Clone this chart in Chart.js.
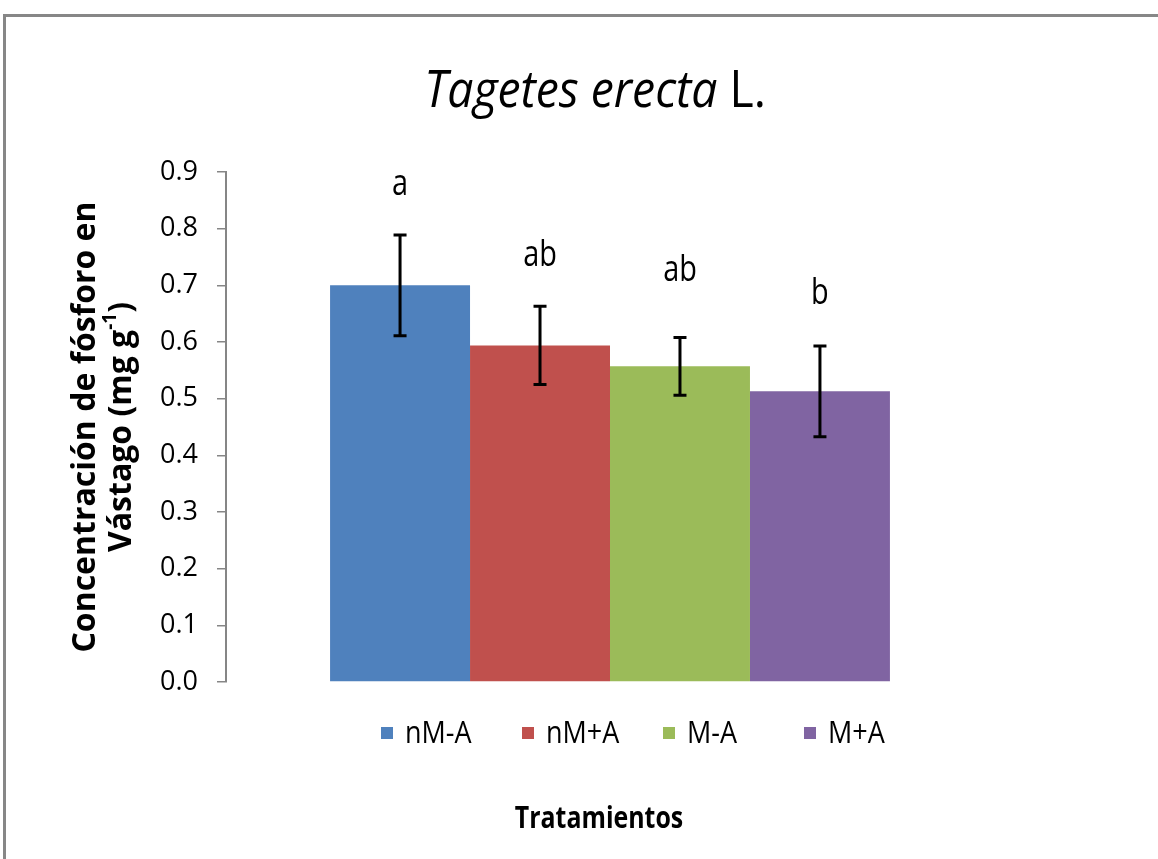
<!DOCTYPE html>
<html>
<head>
<meta charset="utf-8">
<script src="https://cdn.jsdelivr.net/npm/chart.js@4.4.1/dist/chart.umd.min.js"></script>
<style>
  html, body { margin: 0; padding: 0; background: #fff; overflow: hidden; }
  #wrap { position: relative; width: 1158px; height: 859px; }
  #frame { position: absolute; left: 3px; top: 14px; width: 1300px; height: 1000px;
           border-top: 3px solid #878787; border-left: 3px solid #878787; box-sizing: border-box; }
  canvas { position: absolute; left: 0; top: 0; }
</style>
</head>
<body>
<div id="wrap">
  <div id="frame"></div>
  <canvas id="chart" width="1158" height="859"></canvas>
</div>
<script>
// Phosphorus concentration in shoots of Tagetes erecta, by treatment
const treatments = ['nM-A', 'nM+A', 'M-A', 'M+A'];
const concentration = [0.700, 0.594, 0.557, 0.513];
const errorValues = [0.089, 0.069, 0.051, 0.080];
const groupLetters = ['a', 'ab', 'ab', 'b'];
const barColors = ['#4F81BD', '#C0504D', '#9BBB59', '#8064A2'];
const yTickLabels = ['0.0', '0.1', '0.2', '0.3', '0.4', '0.5', '0.6', '0.7', '0.8', '0.9'];

const FONT = '"Open Sans", "DejaVu Sans", sans-serif';

// use a narrow face for the axis numbers when one is installed
function hasFont(name) {
  const c = document.createElement('canvas').getContext('2d');
  c.font = '40px monospace';
  const base = c.measureText('0.123456789abcM').width;
  c.font = '40px "' + name + '", monospace';
  return c.measureText('0.123456789abcM').width !== base;
}
const narrowAvailable = hasFont('Liberation Sans Narrow');
const TICK_FONT = narrowAvailable
  ? { family: '"Liberation Sans Narrow", sans-serif', size: 30 }
  : { family: FONT, size: 27 };

function drawText(ctx, text, x, y, font, align, sx) {
  ctx.save();
  ctx.font = font;
  ctx.translate(x, y);
  ctx.scale(sx || 1, 1);
  ctx.textAlign = align || 'left';
  ctx.fillText(text, 0, 0);
  ctx.restore();
}

const annotations = {
  id: 'annotations',
  afterDatasetsDraw(chart, args, opts) {
    const ctx = chart.ctx;
    const y = chart.scales.y;
    ctx.save();
    ctx.strokeStyle = '#000';
    ctx.lineWidth = 3;
    chart.data.datasets.forEach((ds, i) => {
      const bar = chart.getDatasetMeta(i).data[0];
      const v = ds.data[0];
      const e = errorValues[i];
      const top = y.getPixelForValue(v + e);
      const bot = y.getPixelForValue(v - e);
      const cap = 6.5;
      // error bar with caps
      ctx.beginPath();
      ctx.moveTo(bar.x, top); ctx.lineTo(bar.x, bot);
      ctx.moveTo(bar.x - cap, top); ctx.lineTo(bar.x + cap, top);
      ctx.moveTo(bar.x - cap, bot); ctx.lineTo(bar.x + cap, bot);
      ctx.stroke();
      // significance letter
      ctx.fillStyle = '#000';
      ctx.textBaseline = 'alphabetic';
      drawText(ctx, groupLetters[i], bar.x, top - opts.letterGap[i], '37px ' + FONT, 'center', 0.78);
    });
    ctx.restore();
  },
  afterDraw(chart, args, opts) {
    const ctx = chart.ctx;
    const area = chart.chartArea;
    ctx.save();
    ctx.fillStyle = '#000';
    ctx.textBaseline = 'alphabetic';

    // main title: italic species name followed by upright authority
    const tItalic = 'italic 52px ' + FONT;
    const tNormal = '52px ' + FONT;
    const part1 = 'Tagetes erecta', part2 = ' L.';
    const sx = 0.89;
    ctx.font = tItalic; const w1 = ctx.measureText(part1).width * sx;
    ctx.font = tNormal; const w2 = ctx.measureText(part2).width * sx;
    const tx = opts.titleX - (w1 + w2) / 2;
    drawText(ctx, part1, tx, opts.titleY, tItalic, 'left', sx);
    drawText(ctx, part2, tx + w1, opts.titleY, tNormal, 'left', sx);

    // y-axis title, two rotated lines
    const cy = (area.top + area.bottom) / 2;
    const yFont = 'bold 32px ' + FONT;
    const supFont = 'bold 19px ' + FONT;
    ctx.save();
    ctx.translate(opts.yTitleX, cy);
    ctx.rotate(-Math.PI / 2);
    ctx.textBaseline = 'middle';
    ctx.font = yFont;
    ctx.textAlign = 'center';
    ctx.fillText('Concentración de fósforo en', 0, -18);
    const a = 'Vástago (mg g', sup = '-1', b = ')';
    ctx.font = yFont; const wa = ctx.measureText(a).width, wb = ctx.measureText(b).width;
    ctx.font = supFont; const ws = ctx.measureText(sup).width;
    let lx = -(wa + ws + wb) / 2;
    ctx.textAlign = 'left';
    ctx.font = yFont; ctx.fillText(a, lx, 18); lx += wa;
    ctx.font = supFont; ctx.fillText(sup, lx, 7); lx += ws;
    ctx.font = yFont; ctx.fillText(b, lx, 18);
    ctx.restore();

    // x-axis title
    drawText(ctx, 'Tratamientos', opts.xTitleX, opts.xTitleY, 'bold 30px ' + FONT, 'center', 0.83);

    // legend
    const items = chart.data.datasets;
    items.forEach((ds, i) => {
      const x = opts.legendX + i * opts.legendStep;
      const yc = opts.legendY;
      ctx.fillStyle = ds.backgroundColor;
      ctx.fillRect(x, yc - 6, 12, 12);
      ctx.fillStyle = '#000';
      ctx.textBaseline = 'middle';
      drawText(ctx, ds.label, x + 24, yc + 1, '31px ' + FONT, 'left', 0.87);
    });
    ctx.restore();
  }
};

new Chart(document.getElementById('chart'), {
  type: 'bar',
  data: {
    labels: [''],
    datasets: treatments.map((t, i) => ({
      label: t,
      data: [concentration[i]],
      backgroundColor: barColors[i],
      borderWidth: 0,
      categoryPercentage: 0.729,
      barPercentage: 1.0
    }))
  },
  options: {
    responsive: false,
    animation: false,
    devicePixelRatio: 1,
    layout: { padding: { left: 0, top: 172, right: 164, bottom: 177 } },
    plugins: {
      legend: { display: false },
      title: { display: false },
      tooltip: { enabled: false },
      annotations: {
        letterGap: [40, 40, 56, 42],
        titleX: 595, titleY: 107,
        yTitleX: 104,
        xTitleX: 599, xTitleY: 828,
        legendX: 381, legendY: 733, legendStep: 141
      }
    },
    scales: {
      x: { display: false },
      y: {
        min: 0, max: 0.9,
        afterFit(scale) { scale.width = 226; },
        afterBuildTicks(scale) {
          scale.ticks = yTickLabels.map(l => ({ value: parseFloat(l) }));
        },
        ticks: {
          callback: (v) => yTickLabels[Math.round(v * 10)],
          color: '#000',
          font: TICK_FONT,
          padding: 19
        },
        grid: { display: true, drawOnChartArea: false, drawTicks: true, tickLength: 9,
                color: '#868686', lineWidth: 1.5 },
        border: { display: true, color: '#868686', width: 2 }
      }
    }
  },
  plugins: [annotations]
});
</script>
</body>
</html>
